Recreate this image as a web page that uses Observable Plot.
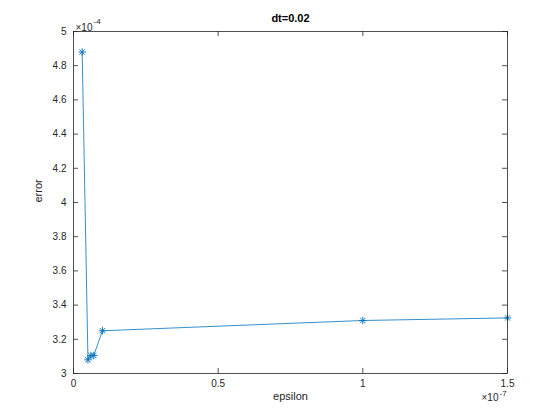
<!DOCTYPE html>
<html><head><meta charset="utf-8">
<script src="https://cdn.jsdelivr.net/npm/d3@7"></script>
<script src="https://cdn.jsdelivr.net/npm/@observablehq/plot@0.6"></script>
<style>body{margin:0;background:#fff}</style>
</head><body><div id="chart"></div>
<script>
const epsilon = [3e-9, 5e-9, 6e-9, 7e-9, 1e-8, 1e-7, 1.5e-7];
const errorValues = [4.88e-4, 3.08e-4, 3.105e-4, 3.105e-4, 3.25e-4, 3.31e-4, 3.325e-4];
const xTicks = [0, 0.5e-7, 1e-7, 1.5e-7];
const xTickLabels = ["0", "0.5", "1", "1.5"];
const yTicks = [3e-4, 3.2e-4, 3.4e-4, 3.6e-4, 3.8e-4, 4e-4, 4.2e-4, 4.4e-4, 4.6e-4, 4.8e-4, 5e-4];
const yTickLabels = ["3", "3.2", "3.4", "3.6", "3.8", "4", "4.2", "4.4", "4.6", "4.8", "5"];
const titleText = "dt=0.02";
const xLabel = "epsilon";
const yLabel = "error";
const xExp = "-7";
const yExp = "-4";

const data = epsilon.map((x, i) => ({x, y: errorValues[i]}));

const W = 560, H = 420;
const mL = 73, mR = 53, mT = 31, mB = 47;
const innerW = W - mL - mR, innerH = H - mT - mB;
const axisColor = "#262626";
const lineColor = "#0072BD";
const tl = 5;

const chart = Plot.plot({
  width: W, height: H,
  marginLeft: mL, marginRight: mR, marginTop: mT, marginBottom: mB,
  style: {fontFamily: "'Liberation Sans', Arial, sans-serif", fontSize: "10px", background: "#fff", color: axisColor},
  x: {domain: [0, 1.5e-7], axis: null},
  y: {domain: [3e-4, 5e-4], axis: null},
  marks: [
    Plot.line(data, {x: "x", y: "y", stroke: lineColor, strokeWidth: 0.8}),
    Plot.dot(data, {x: "x", y: "y", symbol: "plus", r: 2.6, stroke: lineColor, strokeWidth: 0.9}),
    Plot.dot(data, {x: "x", y: "y", symbol: "times", r: 2.6, stroke: lineColor, strokeWidth: 0.9}),
    Plot.frame({stroke: axisColor, strokeWidth: 0.8}),
    Plot.tickX(xTicks, {x: d => d, insetTop: innerH - tl, stroke: axisColor, strokeWidth: 0.8}),
    Plot.tickX(xTicks, {x: d => d, insetBottom: innerH - tl, stroke: axisColor, strokeWidth: 0.8}),
    Plot.tickY(yTicks, {y: d => d, insetRight: innerW - tl, stroke: axisColor, strokeWidth: 0.8}),
    Plot.tickY(yTicks, {y: d => d, insetLeft: innerW - tl, stroke: axisColor, strokeWidth: 0.8}),
    Plot.text(xTicks, {x: d => d, text: (d, i) => xTickLabels[i], frameAnchor: "bottom", dy: 13, fill: axisColor, fontSize: 10}),
    Plot.text(yTicks, {y: d => d, text: (d, i) => yTickLabels[i], frameAnchor: "left", textAnchor: "end", dx: -7, fill: axisColor, fontSize: 10}),
    Plot.text([titleText], {frameAnchor: "top", dy: -17, fontWeight: "bold", fontSize: 11, fill: "#000"}),
    Plot.text([xLabel], {frameAnchor: "bottom", dy: 26, fontSize: 11, fill: axisColor}),
    Plot.text([yLabel], {frameAnchor: "left", dx: -35, rotate: -90, fontSize: 11, fill: axisColor}),
    Plot.text(["×10"], {frameAnchor: "top-left", textAnchor: "start", dx: 2, dy: -8, fontSize: 10, fill: axisColor}),
    Plot.text([yExp], {frameAnchor: "top-left", textAnchor: "start", dx: 20, dy: -13, fontSize: 8, fill: axisColor}),
    Plot.text(["×10"], {frameAnchor: "bottom-right", textAnchor: "end", dx: -9, dy: 27, fontSize: 10, fill: axisColor}),
    Plot.text([xExp], {frameAnchor: "bottom-right", textAnchor: "start", dx: -8, dy: 22, fontSize: 8, fill: axisColor})
  ]
});
document.getElementById("chart").appendChild(chart);
</script>
</body></html>
